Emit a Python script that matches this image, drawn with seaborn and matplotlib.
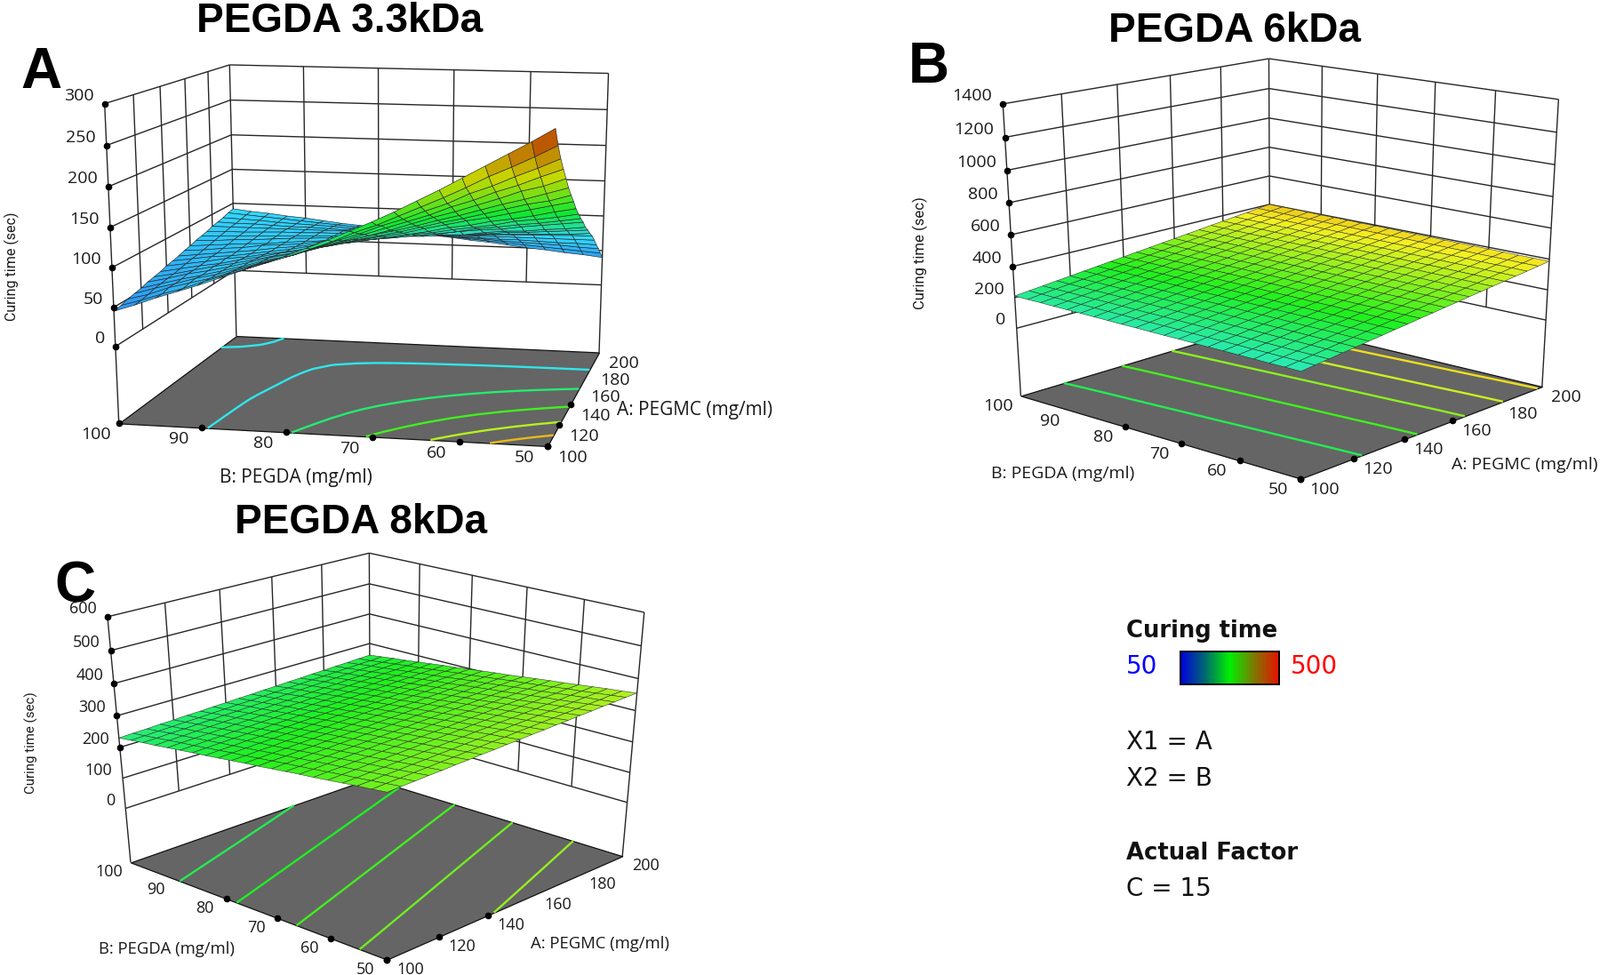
#!/usr/bin/env python3
"""Three response surfaces of curing time against PEGMC and PEGDA, with the legend block."""
import numpy as np
import matplotlib
matplotlib.use("Agg")
import matplotlib.pyplot as plt
from matplotlib.colors import Normalize
from mpl_toolkits.mplot3d import proj3d
from mpl_toolkits.mplot3d.art3d import Line3DCollection
import seaborn as sns

W, H = 1800, 1097

A_TICKS = [100, 120, 140, 160, 180, 200]
B_TICKS = [100, 90, 80, 70, 60, 50]
A_GRID = np.arange(100, 201, 5)
B_GRID = np.arange(100, 49.9, -2.5)

# rows: A = 100..200, columns: B = 100..50
Z_33 = [
    [45, 54, 64, 73, 82, 92, 102, 112, 122, 133, 144, 156, 168, 181, 195, 209, 224, 239, 254, 269, 285],
    [47, 55, 64, 72, 82, 91, 100, 109, 118, 128, 138, 150, 160, 172, 184, 196, 209, 223, 235, 248, 262],
    [50, 57, 67, 74, 81, 90, 99, 107, 115, 125, 135, 144, 155, 164, 175, 185, 198, 208, 220, 231, 243],
    [52, 60, 67, 75, 81, 89, 97, 105, 113, 122, 130, 139, 148, 157, 166, 177, 186, 197, 206, 217, 227],
    [54, 61, 68, 74, 81, 88, 96, 102, 110, 118, 126, 133, 141, 150, 159, 167, 176, 185, 195, 202, 212],
    [57, 63, 70, 75, 81, 88, 95, 101, 108, 115, 123, 130, 136, 143, 151, 158, 166, 174, 181, 189, 197],
    [59, 64, 70, 76, 81, 87, 93, 98, 105, 111, 118, 124, 130, 137, 144, 150, 157, 164, 171, 176, 184],
    [61, 66, 71, 75, 81, 86, 92, 96, 102, 108, 114, 119, 124, 131, 137, 143, 148, 154, 160, 166, 172],
    [64, 68, 72, 77, 80, 85, 89, 94, 98, 104, 109, 113, 118, 123, 129, 133, 139, 143, 148, 154, 159],
    [66, 70, 74, 76, 80, 84, 88, 93, 96, 100, 105, 109, 114, 117, 122, 126, 130, 136, 139, 143, 148],
    [68, 71, 74, 77, 80, 84, 87, 91, 94, 97, 101, 104, 108, 111, 115, 120, 123, 127, 130, 134, 138],
    [71, 73, 76, 78, 82, 84, 86, 90, 92, 96, 98, 101, 104, 107, 111, 114, 116, 120, 123, 126, 129],
    [73, 75, 77, 79, 80, 83, 85, 87, 89, 91, 94, 97, 98, 101, 102, 106, 109, 110, 113, 115, 118],
    [76, 77, 79, 80, 82, 84, 85, 87, 88, 90, 92, 94, 95, 96, 99, 100, 103, 104, 106, 108, 110],
    [78, 79, 80, 81, 82, 83, 84, 85, 86, 87, 88, 89, 91, 92, 93, 95, 96, 97, 98, 99, 101],
    [80, 81, 81, 82, 83, 83, 84, 84, 85, 85, 86, 87, 87, 88, 89, 90, 91, 92, 92, 93, 93],
    [83, 83, 83, 83, 83, 83, 83, 83, 83, 83, 83, 83, 83, 83, 83, 83, 83, 83, 83, 83, 83],
    [85, 84, 84, 83, 82, 82, 81, 80, 80, 79, 79, 78, 77, 77, 76, 75, 75, 74, 73, 73, 72],
    [87, 86, 85, 83, 82, 81, 80, 78, 77, 76, 75, 73, 72, 71, 70, 68, 67, 66, 65, 63, 62],
    [90, 88, 86, 84, 82, 80, 78, 76, 74, 72, 71, 69, 67, 65, 63, 61, 59, 57, 55, 53, 51],
    [92, 89, 87, 84, 82, 79, 76, 74, 71, 69, 66, 63, 61, 58, 56, 53, 50, 48, 45, 43, 40],
]
Z_6 = [
    [210, 209, 209, 208, 207, 207, 206, 205, 204, 204, 203, 202, 202, 201, 200, 200, 199, 198, 197, 197, 196],
    [220, 219, 218, 217, 217, 216, 215, 215, 214, 213, 213, 212, 211, 210, 210, 209, 208, 208, 207, 206, 206],
    [229, 228, 228, 227, 226, 226, 225, 224, 223, 223, 222, 221, 221, 220, 219, 219, 218, 217, 216, 216, 215],
    [239, 238, 237, 236, 236, 235, 234, 234, 233, 232, 232, 231, 230, 229, 229, 228, 227, 227, 226, 225, 225],
    [248, 247, 247, 246, 245, 245, 244, 243, 242, 242, 241, 240, 240, 239, 238, 238, 237, 236, 235, 235, 234],
    [258, 257, 256, 255, 255, 254, 253, 253, 252, 251, 251, 250, 249, 248, 248, 247, 246, 246, 245, 244, 244],
    [267, 266, 266, 265, 264, 264, 263, 262, 261, 261, 260, 259, 259, 258, 257, 257, 256, 255, 254, 254, 253],
    [277, 276, 275, 274, 274, 273, 272, 272, 271, 270, 270, 269, 268, 267, 267, 266, 265, 265, 264, 263, 263],
    [286, 285, 285, 284, 283, 283, 282, 281, 280, 280, 279, 278, 278, 277, 276, 276, 275, 274, 273, 273, 272],
    [296, 295, 294, 293, 293, 292, 291, 291, 290, 289, 289, 288, 287, 286, 286, 285, 284, 284, 283, 282, 282],
    [305, 304, 304, 303, 302, 302, 301, 300, 299, 299, 298, 297, 297, 296, 295, 295, 294, 293, 292, 292, 291],
    [315, 314, 313, 312, 312, 311, 310, 310, 309, 308, 308, 307, 306, 305, 305, 304, 303, 303, 302, 301, 301],
    [324, 323, 323, 322, 321, 321, 320, 319, 318, 318, 317, 316, 316, 315, 314, 314, 313, 312, 311, 311, 310],
    [334, 333, 332, 331, 331, 330, 329, 329, 328, 327, 327, 326, 325, 324, 324, 323, 322, 322, 321, 320, 320],
    [343, 342, 342, 341, 340, 340, 339, 338, 337, 337, 336, 335, 335, 334, 333, 333, 332, 331, 330, 330, 329],
    [353, 352, 351, 350, 350, 349, 348, 348, 347, 346, 346, 345, 344, 343, 343, 342, 341, 341, 340, 339, 339],
    [362, 361, 361, 360, 359, 359, 358, 357, 356, 356, 355, 354, 354, 353, 352, 352, 351, 350, 349, 349, 348],
    [372, 371, 370, 369, 369, 368, 367, 367, 366, 365, 365, 364, 363, 362, 362, 361, 360, 360, 359, 358, 358],
    [381, 380, 380, 379, 378, 378, 377, 376, 375, 375, 374, 373, 373, 372, 371, 371, 370, 369, 368, 368, 367],
    [391, 390, 389, 388, 388, 387, 386, 386, 385, 384, 384, 383, 382, 381, 381, 380, 379, 379, 378, 377, 377],
    [400, 399, 399, 398, 397, 397, 396, 395, 394, 394, 393, 392, 392, 391, 390, 390, 389, 388, 387, 387, 386],
]
Z_8 = [
    [230, 235, 240, 244, 249, 254, 259, 263, 268, 273, 278, 282, 287, 292, 297, 301, 306, 311, 316, 320, 325],
    [232, 236, 241, 246, 251, 255, 260, 265, 270, 274, 279, 284, 289, 293, 298, 303, 308, 312, 317, 322, 327],
    [233, 238, 243, 247, 252, 257, 262, 266, 271, 276, 281, 285, 290, 295, 300, 304, 309, 314, 319, 323, 328],
    [235, 239, 244, 249, 254, 258, 263, 268, 273, 277, 282, 287, 292, 296, 301, 306, 311, 315, 320, 325, 330],
    [236, 241, 246, 250, 255, 260, 265, 269, 274, 279, 284, 288, 293, 298, 303, 307, 312, 317, 322, 326, 331],
    [238, 242, 247, 252, 257, 261, 266, 271, 276, 280, 285, 290, 295, 299, 304, 309, 314, 318, 323, 328, 333],
    [239, 244, 249, 253, 258, 263, 268, 272, 277, 282, 287, 291, 296, 301, 306, 310, 315, 320, 325, 329, 334],
    [241, 245, 250, 255, 260, 264, 269, 274, 279, 283, 288, 293, 298, 302, 307, 312, 317, 321, 326, 331, 336],
    [242, 247, 252, 256, 261, 266, 271, 275, 280, 285, 290, 294, 299, 304, 309, 313, 318, 323, 328, 332, 337],
    [244, 248, 253, 258, 263, 267, 272, 277, 282, 286, 291, 296, 301, 305, 310, 315, 320, 324, 329, 334, 339],
    [245, 250, 255, 259, 264, 269, 274, 278, 283, 288, 293, 297, 302, 307, 312, 316, 321, 326, 331, 335, 340],
    [247, 251, 256, 261, 266, 270, 275, 280, 285, 289, 294, 299, 304, 308, 313, 318, 323, 327, 332, 337, 342],
    [248, 253, 258, 262, 267, 272, 277, 281, 286, 291, 296, 300, 305, 310, 315, 319, 324, 329, 334, 338, 343],
    [250, 254, 259, 264, 269, 273, 278, 283, 288, 292, 297, 302, 307, 311, 316, 321, 326, 330, 335, 340, 345],
    [251, 256, 261, 265, 270, 275, 280, 284, 289, 294, 299, 303, 308, 313, 318, 322, 327, 332, 337, 341, 346],
    [253, 257, 262, 267, 272, 276, 281, 286, 291, 295, 300, 305, 310, 314, 319, 324, 329, 333, 338, 343, 348],
    [254, 259, 264, 268, 273, 278, 283, 287, 292, 297, 302, 306, 311, 316, 321, 325, 330, 335, 340, 344, 349],
    [256, 260, 265, 270, 275, 279, 284, 289, 294, 298, 303, 308, 313, 317, 322, 327, 332, 336, 341, 346, 351],
    [257, 262, 267, 271, 276, 281, 286, 290, 295, 300, 305, 309, 314, 319, 324, 328, 333, 338, 343, 347, 352],
    [259, 263, 268, 273, 278, 282, 287, 292, 297, 301, 306, 311, 316, 320, 325, 330, 335, 339, 344, 349, 354],
    [260, 265, 270, 274, 279, 284, 289, 293, 298, 303, 308, 312, 317, 322, 327, 331, 336, 341, 346, 350, 355],
]

Z_TICKS_33 = [0, 50, 100, 150, 200, 250, 300]
Z_TICKS_6 = [0, 200, 400, 600, 800, 1000, 1200, 1400]
Z_TICKS_8 = [0, 100, 200, 300, 400, 500, 600]

LEVELS_33 = [85, 125, 165, 205, 245]
LEVELS_6 = [240, 282, 320, 352, 382]
LEVELS_8 = [250, 272, 294, 316, 338]

# where box corners and tick marks sit in the picture: (A, B, z) -> pixel
CORNERS_33 = [
    (100, 100, -100, 132.7, 475.7), (100, 100, 0, 129.8, 388.8), (100, 100, 300, 119.4, 116.0),
    (200, 100, -100, 265.4, 377.7), (200, 100, 0, 264.8, 305.0), (200, 100, 300, 258.5, 73.6),
    (200, 50, -100, 675.1, 395.6), (200, 50, 0, 676.0, 318.8), (200, 50, 300, 683.7, 81.9),
    (100, 50, -100, 616.2, 501.9),
]
MARKS_33 = [
    (100, 90, -100, 229.0, 481.0), (100, 80, -100, 326.0, 486.4), (100, 70, -100, 422.4, 491.0),
    (100, 60, -100, 518.0, 496.9),
    (120, 50, -100, 627.2, 481.0), (140, 50, -100, 638.7, 460.2), (160, 50, -100, 650.3, 438.7),
    (180, 50, -100, 661.8, 417.2),
    (120, 100, 300, 147.0, 107.0), (140, 100, 300, 175.0, 98.7), (160, 100, 300, 203.0, 90.0),
    (180, 100, 300, 231.4, 81.5),
    (200, 90, 300, 344.5, 75.4), (200, 80, 300, 429.3, 76.8), (200, 70, 300, 513.5, 78.6),
    (200, 60, 300, 598.3, 80.0),
]
CORNERS_6 = [
    (100, 100, -450, 1146.2, 445.2), (100, 100, 0, 1143.0, 365.5), (100, 100, 1400, 1130.8, 115.6),
    (200, 100, -450, 1429.7, 361.0), (200, 100, 1400, 1427.2, 68.2),
    (200, 50, -450, 1735.9, 435.1), (200, 50, 0, 1739.5, 357.2), (200, 50, 1400, 1751.3, 109.5),
    (100, 50, -450, 1464.1, 539.6),
]
MARKS_6 = [
    (100, 90, -450, 1210.2, 463.8), (100, 80, -450, 1273.3, 482.9), (100, 70, -450, 1336.9, 501.5),
    (100, 60, -450, 1400.0, 520.6),
    (120, 50, -450, 1517.9, 518.8), (140, 50, -450, 1571.8, 497.2), (160, 50, -450, 1626.6, 476.8),
    (180, 50, -450, 1681.0, 456.0),
    (120, 100, 1400, 1189.7, 106.3), (140, 100, 1400, 1249.7, 96.6), (160, 100, 1400, 1308.7, 87.2),
    (180, 100, 1400, 1367.7, 77.9),
    (200, 90, 1400, 1492.3, 76.5), (200, 80, 1400, 1557.4, 84.7), (200, 70, 1400, 1622.0, 93.0),
    (200, 60, 1400, 1687.2, 101.2),
]
CORNERS_8 = [
    (100, 100, -185, 146.2, 969.7), (100, 100, 0, 140.0, 904.8), (100, 100, 600, 123.1, 692.7),
    (200, 100, -185, 416.9, 877.0), (200, 100, 600, 415.4, 623.6),
    (200, 50, -185, 701.0, 963.0), (200, 50, 0, 706.6, 897.8), (200, 50, 600, 723.0, 687.8),
    (100, 50, -185, 435.9, 1081.0),
]
MARKS_8 = [
    (100, 90, -185, 204.1, 992.8), (100, 80, -185, 261.5, 1014.5), (100, 70, -185, 319.0, 1036.6),
    (100, 60, -185, 376.9, 1059.1),
    (120, 50, -185, 488.2, 1057.3), (140, 50, -185, 541.0, 1034.0), (160, 50, -185, 593.8, 1010.0),
    (180, 50, -185, 647.2, 986.5),
    (120, 100, 600, 182.0, 678.7), (140, 100, 600, 240.0, 665.0), (160, 100, 600, 298.0, 651.3),
    (180, 100, 600, 356.0, 637.7),
    (200, 90, 600, 477.0, 636.6), (200, 80, 600, 538.0, 649.2), (200, 70, 600, 600.0, 662.2),
    (200, 60, 600, 661.5, 674.8),
]


def px_text(fig, x, y, s, **kw):
    return fig.text(x / W, 1 - y / H, s, **kw)


def smooth_for_contours(z, passes=3):
    # the table is whole numbers, contour lines would show the rounding
    z = np.array(z, dtype=float)
    for _ in range(passes):
        for axis in (0, 1):
            z = np.moveaxis(z, axis, 0)
            padded = np.vstack([2 * z[0] - z[1], z, 2 * z[-1] - z[-2]])
            z = (padded[:-2] + 2 * padded[1:-1] + padded[2:]) / 4
            z = np.moveaxis(z, 0, axis)
    return z


def fit_camera(ax, corners, marks):
    # solve the 3x4 camera from the tables, corners count most, then hand it to the 3D axes
    view = np.array(corners * 4 + marks, dtype=float)
    world = view[:, :3]
    low, span = world.min(axis=0), np.ptp(world, axis=0)
    unit = (world - low) / span
    uv = np.column_stack([view[:, 3], H - view[:, 4]]) / 1000.0
    rows = []
    for (x, y, z), (u, v) in zip(unit, uv):
        rows.append([x, y, z, 1, 0, 0, 0, 0, -u * x, -u * y, -u * z, -u])
        rows.append([0, 0, 0, 0, x, y, z, 1, -v * x, -v * y, -v * z, -v])
    P = np.linalg.svd(np.array(rows))[2][-1].reshape(3, 4)
    P = P / (P[2] @ np.array([0.5, 0.5, 0.5, 1.0]))

    to_unit = np.eye(4)
    to_unit[:3, :3] = np.diag(1 / span)
    to_unit[:3, 3] = -low / span
    ax.apply_aspect()
    to_axes = ax.transData.inverted().get_matrix() @ np.diag([1000.0, 1000.0, 1.0])
    xyw = to_axes @ P
    M = np.vstack([xyw[0], xyw[1], xyw[2] - [0, 0, 0, 1], xyw[2]]) @ to_unit
    ax.get_proj = lambda: M
    ax.M = M
    return M


def draw_panel(fig, box, corners, marks, z_grid, z_ticks, floor, levels, norm, cmap, line_cmap, line_norm, off):
    cx, cy, side = box
    ax = fig.add_axes([(cx - side / 2) / W, 1 - (cy + side / 2) / H, side / W, side / H],
                      projection="3d", computed_zorder=False)
    ax.set_axis_off()
    ax.patch.set_visible(False)
    M = fit_camera(ax, corners, marks)

    z_grid = np.array(z_grid, dtype=float)
    bb, aa = np.meshgrid(B_GRID, A_GRID)
    top = z_ticks[-1]

    # walls
    segs = []
    for z in z_ticks:
        segs.append([(100, 100, z), (200, 100, z)])
        segs.append([(200, 100, z), (200, 50, z)])
    for a in A_TICKS[1:-1]:
        segs.append([(a, 100, 0), (a, 100, top)])
    for b in B_TICKS[1:-1]:
        segs.append([(200, b, 0), (200, b, top)])
    for a, b in [(100, 100), (200, 100), (200, 50)]:
        segs.append([(a, b, floor), (a, b, top)])
    ax.add_collection3d(Line3DCollection(segs, colors="#262626", linewidths=1.0, zorder=1), autolim=False)

    # floor and contours
    fa, fb = np.meshgrid([100, 200], [100, 50])
    ax.plot_surface(fa, fb, np.full(fa.shape, floor), color="#656565", shade=False,
                    edgecolor="#111111", linewidth=0.9, zorder=2)
    ax.contour(aa, bb, smooth_for_contours(z_grid), levels=levels, zdir="z", offset=floor,
               cmap=line_cmap, norm=line_norm, linewidths=1.7, zorder=3)

    # response surface
    ax.plot_surface(aa, bb, z_grid, facecolors=cmap(norm(z_grid)), shade=False, rcount=21, ccount=21,
                    edgecolor="#262626", linewidth=off["mesh"], zorder=4)

    # tick dots and labels
    dot_kw = dict(color="black", marker="o", ms=4.5, ls="none", zorder=6)
    ax.plot([100] * len(z_ticks), [100] * len(z_ticks), z_ticks, **dot_kw)
    ax.plot([100] * 6, B_TICKS, [floor] * 6, **dot_kw)
    ax.plot(A_TICKS, [50] * 6, [floor] * 6, **dot_kw)

    def tick(a, b, z, s, dx, dy, ha="center"):
        xy = proj3d.proj_transform(a, b, z, M)[:2]
        ax.annotate(s, xy=xy, xytext=(dx, dy), textcoords="offset pixels", ha=ha, va="center",
                    fontsize=off["size"], color="#1a1a1a", annotation_clip=False)

    for z in z_ticks:
        tick(100, 100, z, str(z), -12, 9, ha="right")
    for b in B_TICKS:
        tick(100, b, floor, str(b), *off["b"])
    for a in A_TICKS:
        tick(a, 50, floor, str(a), *off["a"])
    return ax


sns.set_theme(style="white")
plt.rcParams["font.family"] = ["Open Sans", "DejaVu Sans"]

# legend says blue-green-red, the lit surfaces run through cyan and yellow too
surface_cmap = sns.blend_palette(["#1f6fff", "#2fe6ff", "#1ef01e", "#f5f020", "#c02800"], as_cmap=True)
saddle_cmap = sns.blend_palette(["#2a80f0", "#30d8ff", "#10e830", "#c8d800", "#b83000"], as_cmap=True)
legend_cmap = sns.blend_palette(["#0000e0", "#006a70", "#00f000", "#807800", "#e81000"], as_cmap=True)

fig = plt.figure(figsize=(W / 100, H / 100), dpi=100, facecolor="white")

draw_panel(fig, (390, 290, 820), CORNERS_33, MARKS_33, Z_33, Z_TICKS_33, -100, LEVELS_33,
           Normalize(25, 285), saddle_cmap, surface_cmap, Normalize(5, 300),
           dict(size=14, mesh=0.45, b=(-26, -13), a=(28, -13)))
draw_panel(fig, (1400, 280, 820), CORNERS_6, MARKS_6, Z_6, Z_TICKS_6, -450, LEVELS_6,
           Normalize(50, 480), surface_cmap, surface_cmap, Normalize(50, 480),
           dict(size=14, mesh=0.35, b=(-25, -12), a=(27, -12)))
draw_panel(fig, (400, 820, 760), CORNERS_8, MARKS_8, Z_8, Z_TICKS_8, -185, LEVELS_8,
           Normalize(50, 500), surface_cmap, surface_cmap, Normalize(50, 500),
           dict(size=13, mesh=0.35, b=(-24, -11), a=(26, -11)))

# titles and panel letters
title_kw = dict(family="Liberation Sans", weight="bold", ha="center", va="center", color="black")
px_text(fig, 382, 24, "PEGDA 3.3kDa", fontsize=33, **title_kw)
px_text(fig, 1389, 35, "PEGDA 6kDa", fontsize=33, **title_kw)
px_text(fig, 406, 588, "PEGDA 8kDa", fontsize=33, **title_kw)
px_text(fig, 46, 82, "A", fontsize=46, **title_kw)
px_text(fig, 1045, 76, "B", fontsize=46, **title_kw)
px_text(fig, 84, 661, "C", fontsize=46, **title_kw)

# axis titles
lab_kw = dict(ha="center", va="center", color="#1a1a1a")
px_text(fig, 333, 538, "B: PEGDA (mg/ml)", fontsize=15, **lab_kw)
px_text(fig, 782, 462, "A: PEGMC (mg/ml)", fontsize=15, **lab_kw)
px_text(fig, 13, 300, "Curing time (sec)", fontsize=11.5, rotation=90, family="Roboto", **lab_kw)
px_text(fig, 1196, 533, "B: PEGDA (mg/ml)", fontsize=14, **lab_kw)
px_text(fig, 1715, 523, "A: PEGMC (mg/ml)", fontsize=14, **lab_kw)
px_text(fig, 1035, 285, "Curing time (sec)", fontsize=12, rotation=90, family="Roboto", **lab_kw)
px_text(fig, 187, 1068, "B: PEGDA (mg/ml)", fontsize=13.3, **lab_kw)
px_text(fig, 675, 1062, "A: PEGMC (mg/ml)", fontsize=13.3, **lab_kw)
px_text(fig, 35, 836, "Curing time (sec)", fontsize=10.9, rotation=90, family="Roboto", **lab_kw)

# legend block
side_kw = dict(ha="left", va="center", fontsize=20, color="#111111", family="DejaVu Sans")
bold_kw = dict(side_kw, fontsize=18.6, weight="bold")
px_text(fig, 1267, 710, "Curing time", **bold_kw)
px_text(fig, 1267, 960, "Actual Factor", **bold_kw)
px_text(fig, 1267, 835, "X1 = A", **side_kw)
px_text(fig, 1267, 876, "X2 = B", **side_kw)
px_text(fig, 1267, 1000, "C = 15", **side_kw)
px_text(fig, 1267, 750, "50", **dict(side_kw, color="#0000ff"))
px_text(fig, 1452, 750, "500", **dict(side_kw, color="#ff0000"))

cax = fig.add_axes([1328 / W, 1 - 770 / H, 111 / W, 37 / H])
cax.imshow(np.linspace(0, 1, 256).reshape(1, -1), aspect="auto", cmap=legend_cmap)
cax.set_xticks([])
cax.set_yticks([])
for spine in cax.spines.values():
    spine.set_visible(True)
    spine.set_color("black")
    spine.set_linewidth(1.4)

fig.savefig("out.png", dpi=100, facecolor="white")
